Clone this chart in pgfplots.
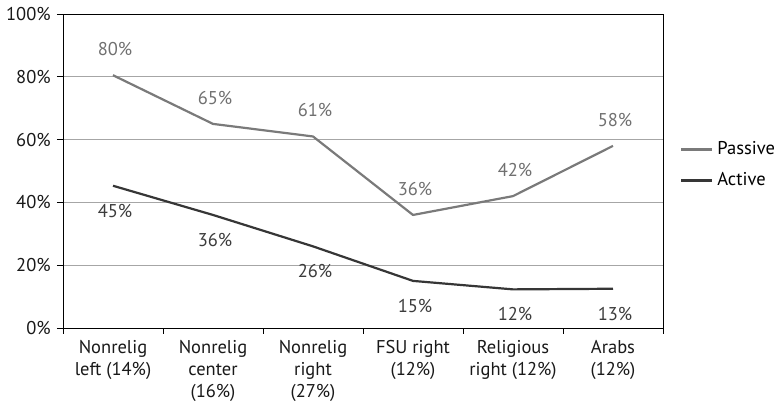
\documentclass[border=0pt]{standalone}
\usepackage{fontspec}
\setmainfont{PT Sans}
\usepackage{pgfplots}
\pgfplotsset{compat=1.18}
\definecolor{passive}{HTML}{7A7A7A}
\definecolor{active}{HTML}{363636}
\definecolor{passivetxt}{HTML}{707070}
\definecolor{activetxt}{HTML}{3C3C3C}
\definecolor{gridc}{HTML}{A6A6A6}
\begin{document}
\fontsize{18.5bp}{22bp}\selectfont
\begin{tikzpicture}
\path[use as bounding box] (0,0) rectangle (776bp,403bp);
\begin{axis}[
  at={(63bp,75bp)}, anchor=south west,
  scale only axis, width=600bp, height=314bp,
  xmin=0.5, xmax=6.5, ymin=0, ymax=100,
  xtick={1,...,6},
  xticklabels={{Nonrelig\\left (14\%)},{Nonrelig\\center\\(16\%)},{Nonrelig\\right\\(27\%)},{FSU right\\(12\%)},{Religious\\right (12\%)},{Arabs\\(12\%)}},
  xticklabel style={align=center, font=\fontsize{18.5bp}{22bp}\selectfont, text=black!90},
  major x tick style={draw=none},
  minor xtick={0.5,1.5,...,6.5},
  ytick={0,20,...,100},
  yticklabel={\pgfmathprintnumber{\tick}\%},
  yticklabel style={font=\fontsize{18.5bp}{22bp}\selectfont, text=black!90},
  /pgf/number format/assume math mode=true,
  tick align=outside, tick pos=left,
  major tick length=6bp, minor tick length=6bp,
  every tick/.style={black, line width=0.8pt},
  ymajorgrids, grid style={gridc, line width=0.8pt},
  axis line style={black, line width=0.8pt},
  clip=false,
  legend style={draw=none, fill=none, at={(1,0.519)}, anchor=west, xshift=15bp,
    font=\fontsize{18.5bp}{22bp}\selectfont, row sep=11bp, inner sep=2bp,
    nodes={inner xsep=4bp}},
  legend cell align=left,
  legend image code/.code={\draw[#1] (0bp,0bp) -- (31bp,0bp);},
  point meta=explicit symbolic,
]
\addplot[passive, line width=2.2bp, line join=round, nodes near coords,
  nodes near coords style={anchor=center, yshift=26bp, xshift=2bp, text=passivetxt, font=\fontsize{18.5bp}{22bp}\selectfont}]
  coordinates {(1,80.5)[80\%] (2,65)[65\%] (3,61)[61\%] (4,36)[36\%] (5,42)[42\%] (6,58)[58\%]};
\addlegendentry{Passive}
\addplot[active, line width=2.2bp, line join=round, nodes near coords,
  nodes near coords style={anchor=center, yshift=-25bp, xshift=2bp, text=activetxt, font=\fontsize{18.5bp}{22bp}\selectfont}]
  coordinates {(1,45.3)[45\%] (2,36)[36\%] (3,26)[26\%] (4,15)[15\%] (5,12.3)[12\%] (6,12.5)[13\%]};
\addlegendentry{Active}
\end{axis}
\end{tikzpicture}
\end{document}
